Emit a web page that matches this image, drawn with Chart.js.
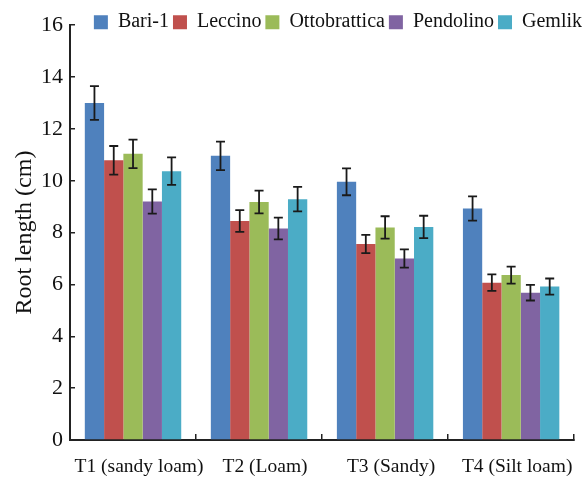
<!DOCTYPE html>
<html>
<head>
<meta charset="utf-8">
<title>Root length</title>
<script src="https://cdn.jsdelivr.net/npm/chart.js@4.4.1/dist/chart.umd.min.js"></script>
<style>
  html, body { margin: 0; padding: 0; background: #fff; }
  #wrap { width: 588px; height: 477px; }
</style>
</head>
<body>
<div id="wrap"><canvas id="rootChart" width="588" height="477"></canvas></div>
<script>
// soil treatments on the x axis
var categories = ['T1 (sandy loam)', 'T2 (Loam)', 'T3 (Sandy)', 'T4 (Silt loam)'];

// mean root length (cm) per cultivar
var bari1 = [13.0, 10.96, 9.96, 8.93];
var leccino = [10.79, 8.45, 7.56, 6.07];
var ottobrattica = [11.04, 9.18, 8.2, 6.36];
var pendolino = [9.2, 8.16, 7.0, 5.68];
var gemlik = [10.37, 9.29, 8.22, 5.92];

// error bar half-heights
var bari1Err = [0.65, 0.55, 0.52, 0.47];
var leccinoErr = [0.55, 0.42, 0.35, 0.32];
var ottobratticaErr = [0.55, 0.44, 0.43, 0.33];
var pendolinoErr = [0.47, 0.42, 0.35, 0.3];
var gemlikErr = [0.53, 0.47, 0.43, 0.31];

var yTicks = [0, 2, 4, 6, 8, 10, 12, 14, 16];

var serif = "'Liberation Serif', 'Times New Roman', serif";

// error bars drawn on top of each bar
var errorBars = {
    id: 'errorBars',
    afterDatasetsDraw: function(chart) {
        var ctx = chart.ctx;
        var yScale = chart.scales.y;
        ctx.save();
        ctx.strokeStyle = '#1a1a1a';
        ctx.lineWidth = 1.8;
        chart.data.datasets.forEach(function(ds, i) {
            var meta = chart.getDatasetMeta(i);
            meta.data.forEach(function(bar, j) {
                var v = ds.data[j], e = ds.errors[j];
                var top = yScale.getPixelForValue(v + e);
                var bot = yScale.getPixelForValue(v - e);
                var x = bar.x;
                ctx.beginPath();
                ctx.moveTo(x, top); ctx.lineTo(x, bot);
                ctx.moveTo(x - 4.5, top); ctx.lineTo(x + 4.5, top);
                ctx.moveTo(x - 4.5, bot); ctx.lineTo(x + 4.5, bot);
                ctx.stroke();
            });
        });
        ctx.restore();
    }
};

// legend sits in the top margin, overlapping the plot's top row;
// shrink its layout height, then give the clip box room again
var legendHeight = {
    id: 'legendHeight',
    beforeInit: function(chart) {
        var fit = chart.legend.fit;
        chart.legend.fit = function() {
            fit.call(this);
            this.height = 17;
        };
    },
    afterLayout: function(chart) {
        chart.legend.bottom = chart.legend.top + 40;
        chart.legend.right = chart.legend.right + 3;
    }
};

function makeSet(label, data, errors, color) {
    return {
        label: label,
        data: data,
        errors: errors,
        backgroundColor: color,
        borderWidth: 0
    };
}

var ctx = document.getElementById('rootChart').getContext('2d');
var rootChart = new Chart(ctx, {
    type: 'bar',
    data: {
        labels: categories,
        datasets: [
            makeSet('Bari-1', bari1, bari1Err, '#4F81BD'),
            makeSet('Leccino', leccino, leccinoErr, '#C0504D'),
            makeSet('Ottobrattica', ottobrattica, ottobratticaErr, '#9BBB59'),
            makeSet('Pendolino', pendolino, pendolinoErr, '#8064A2'),
            makeSet('Gemlik', gemlik, gemlikErr, '#4BACC6')
        ]
    },
    options: {
        responsive: false,
        animation: false,
        layout: { padding: { top: 8, right: 5, left: 0, bottom: 0 } },
        datasets: {
            bar: { categoryPercentage: 0.765, barPercentage: 1.0 }
        },
        scales: {
            x: {
                grid: {
                    offset: true,
                    drawOnChartArea: false,
                    drawTicks: true,
                    tickLength: -6,
                    color: '#222',
                    lineWidth: 1.5
                },
                border: { color: '#222', width: 2 },
                ticks: {
                    color: '#111',
                    padding: 21,
                    labelOffset: 6,
                    autoSkip: false,
                    maxRotation: 0,
                    font: { family: serif, size: 19.5 }
                },
                afterFit: function(scale) { scale.height = 37; }
            },
            y: {
                min: 0,
                max: 16,
                afterBuildTicks: function(scale) {
                    scale.ticks = yTicks.map(function(v) { return { value: v }; });
                },
                grid: {
                    drawOnChartArea: false,
                    drawTicks: true,
                    tickLength: -5,
                    color: '#222',
                    lineWidth: 1.5
                },
                border: { color: '#222', width: 2 },
                ticks: {
                    color: '#111',
                    padding: 12,
                    font: { family: serif, size: 22 }
                },
                title: {
                    display: true,
                    text: 'Root length (cm)',
                    color: '#111',
                    padding: { top: 10, bottom: 0 },
                    font: { family: serif, size: 24 }
                },
                afterFit: function(scale) { scale.width = 70; }
            }
        },
        plugins: {
            legend: {
                position: 'top',
                align: 'end',
                labels: {
                    color: '#111',
                    boxWidth: 14,
                    boxHeight: 14,
                    padding: 4,
                    font: { family: serif, size: 20 }
                }
            },
            tooltip: { enabled: false }
        }
    },
    plugins: [errorBars, legendHeight]
});
</script>
</body>
</html>
